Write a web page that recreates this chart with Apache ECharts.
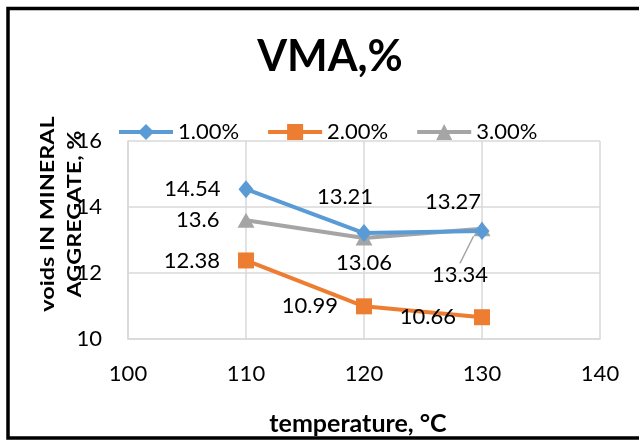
<!DOCTYPE html>
<html>
<head>
<meta charset="utf-8">
<title>VMA,%</title>
<script src="https://cdn.jsdelivr.net/npm/echarts@6/dist/echarts.min.js"></script>
<style>
  html, body { margin: 0; padding: 0; background: #fff; }
  #chart { width: 639px; height: 441px; }
</style>
</head>
<body>
<div id="chart"></div>
<script>
// Mixing temperatures (°C) and VMA readings for each additive content
const temperatures = [110, 120, 130];
const vma100 = [14.54, 13.21, 13.27];
const vma200 = [12.38, 10.99, 10.66];
const vma300 = [13.6, 13.06, 13.34];
const seriesNames = ['1.00%', '2.00%', '3.00%'];
const xTicks = [100, 110, 120, 130, 140];
const yTicks = [10, 12, 14, 16];

const FONT = 'Lato, "Open Sans", sans-serif';
const colors = ['#5B9BD5', '#ED7D31', '#A5A5A5'];

// Where each value label sits relative to its marker
const labelPlacement = [
  [{ position: 'left', distance: 18 },
   { position: 'top', distance: 15, offset: [-19, 0] },
   { position: 'top', distance: 8, offset: [-29, 0] }],
  [{ position: 'left', distance: 18 },
   { position: 'left', distance: 18 },
   { position: 'left', distance: 18 }],
  [{ position: 'left', distance: 18 },
   { position: 'bottom', distance: 5, offset: [-17, 0] },
   { position: 'bottom', distance: 5 }]
];

function buildData(values, sIdx) {
  return temperatures.map((t, i) => {
    const item = { value: [t, values[i]], label: labelPlacement[sIdx][i] };
    if (sIdx === 2 && i === 2) item.labelLine = { show: true };
    return item;
  });
}

const symbols = [
  { symbol: 'diamond', symbolSize: [15, 18] },
  { symbol: 'rect', symbolSize: [16, 16] },
  { symbol: 'triangle', symbolSize: [17, 15] }
];

const series = [vma100, vma200, vma300].map((vals, s) => ({
  name: seriesNames[s],
  type: 'line',
  data: buildData(vals, s),
  symbol: symbols[s].symbol,
  symbolSize: symbols[s].symbolSize,
  showAllSymbol: true,
  lineStyle: { color: colors[s], width: 4 },
  itemStyle: { color: colors[s] },
  label: {
    show: true,
    color: '#000',
    fontFamily: FONT,
    fontSize: 22,
    lineHeight: 24,
    formatter: p => String(p.value[1])
  },
  labelLine: { show: false, lineStyle: { color: colors[s], width: 1.5 } },
  labelLayout: s === 2 ? function (p) {
    if (p.dataIndex === 2) return { dx: -22, dy: 22 };
    return {};
  } : undefined,
  z: 3 - s
}));

const chart = echarts.init(document.getElementById('chart'), null, { renderer: 'canvas' });

chart.setOption({
  animation: false,
  backgroundColor: '#fff',
  title: {
    text: 'VMA,%',
    left: 325,
    top: 31,
    textAlign: 'center',
    textStyle: { fontFamily: FONT, fontWeight: 'bold', fontSize: 43, color: '#000' }
  },
  legend: {
    data: seriesNames,
    left: 117,
    top: 121,
    padding: 0,
    itemWidth: 54,
    itemHeight: 20,
    itemGap: 27,
    lineStyle: { width: 4 },
    textStyle: { fontFamily: FONT, fontSize: 22, color: '#000' }
  },
  grid: { left: 128, right: 39, top: 141, bottom: 102 },
  xAxis: {
    type: 'value',
    min: xTicks[0],
    max: xTicks[xTicks.length - 1],
    interval: 10,
    axisLine: { show: true, lineStyle: { color: '#D9D9D9', width: 1.5 } },
    axisTick: { show: false },
    splitLine: { show: true, lineStyle: { color: '#D9D9D9', width: 1.5 } },
    axisLabel: { color: '#000', fontFamily: FONT, fontSize: 22, margin: 24 },
    name: 'temperature, °C',
    nameLocation: 'middle',
    nameGap: 72,
    nameTextStyle: { fontFamily: FONT, fontWeight: 'bold', fontSize: 25, color: '#000', padding: [0, 12, 0, 0] }
  },
  yAxis: {
    type: 'value',
    min: yTicks[0],
    max: yTicks[yTicks.length - 1],
    interval: 2,
    axisLine: { show: true, lineStyle: { color: '#D9D9D9', width: 1.5 } },
    axisTick: { show: false },
    splitLine: { show: true, lineStyle: { color: '#D9D9D9', width: 1.5 } },
    axisLabel: { color: '#000', fontFamily: FONT, fontSize: 22, margin: 26 }
  },
  graphic: [
    // outer frame of the chart box
    {
      type: 'rect',
      shape: { x: 8, y: 8.5, width: 660, height: 429.5 },
      style: { fill: 'none', stroke: '#000', lineWidth: 3.5 },
      z: 10
    },
    // y-axis title, two rotated lines
    {
      type: 'text',
      x: 48.5, y: 214,
      rotation: Math.PI / 2,
      scaleX: 1.3,
      style: { text: 'voids IN MINERAL', fontFamily: FONT, fontWeight: 'bold', fontSize: 18, fill: '#000', align: 'center', verticalAlign: 'middle' },
      z: 5
    },
    {
      type: 'text',
      x: 75.5, y: 214,
      rotation: Math.PI / 2,
      scaleX: 1.3,
      style: { text: 'AGGREGATE, %', fontFamily: FONT, fontWeight: 'bold', fontSize: 18, fill: '#000', align: 'center', verticalAlign: 'middle' },
      z: 5
    }
  ],
  series: series
});
</script>
</body>
</html>
